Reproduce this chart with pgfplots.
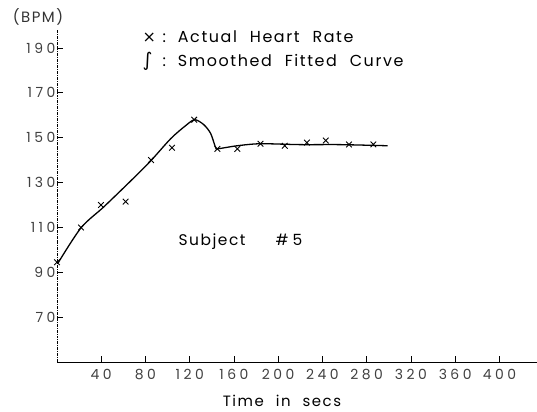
\documentclass[border=0pt]{standalone}
\usepackage{fontspec}
\setmainfont{Poppins}[LetterSpace=10, WordSpace=2.2]
\newfontfamily\sym{DejaVu Sans}
\usepackage{pgfplots}
\pgfplotsset{compat=1.18}
\newcommand\dk{\kern3.5bp}
\pgfplotstableread{
x y
0 94.5
21.7 110
39.7 120
62 121.5
85 140
104 145.5
124 158
145 145
163 145
184 147.3
206 146.4
226 147.8
243 148.7
264 147
286 147
}\actual
\pgfplotstableread{
x y
0.9 94.1
21.7 109.8
42.4 119.2
66.8 130.8
84.8 139.7
102.9 149.6
116.4 155.4
124.5 158.0
132.7 155.8
139 151.8
143.5 145.5
146 145.1
163 146.4
184 147.3
220 146.9
256 146.9
299 146.4
}\fitted
\begin{document}
\begin{tikzpicture}[x=1bp,y=1bp]
\begin{axis}[
  at={(57bp,49bp)}, anchor=south west,
  scale only axis, width=480bp, height=332bp,
  xmin=0, xmax=434, ymin=50, ymax=198,
  axis lines=left, axis line style={-, line width=0.9pt},
  y axis line style={densely dashdotted},
  xtick={40,80,...,400}, ytick={70,90,...,190},
  xticklabels={4\dk0,8\dk0,1\dk2\dk0,1\dk6\dk0,2\dk0\dk0,2\dk4\dk0,2\dk8\dk0,3\dk2\dk0,3\dk6\dk0,4\dk0\dk0},
  yticklabels={7\dk0,9\dk0,1\dk1\dk0,1\dk3\dk0,1\dk5\dk0,1\dk7\dk0,1\dk9\dk0},
  tick align=inside, major tick length=6bp,
  tick style={black, line width=0.7pt},
  tick label style={font=\fontsize{14}{14}\selectfont, text=black!75},
  xticklabel style={yshift=-4bp},
  yticklabel style={xshift=2bp},
  clip=false,
]
\addplot[black, line width=1.3pt, smooth, tension=0.5] table[x=x,y=y] {\fitted};
\addplot[only marks, mark=x, mark size=4bp, mark options={line width=0.9pt}, black] table[x=x,y=y] {\actual};
\end{axis}
\node[font=\fontsize{15}{15}\selectfont, text=black!80] at (38,394) {(BPM)};
\node[anchor=west, font=\fontsize{16}{16}\selectfont] at (139,374) {\makebox[10bp][l]{\sym×}\hspace{10bp}:\hspace{12bp}Actual Heart Rate};
\node[anchor=west, font=\fontsize{16}{16}\selectfont] at (139,350) {\makebox[10bp][l]{\sym\fontsize{19}{19}\selectfont∫}\hspace{10bp}:\hspace{12bp}Smoothed Fitted Curve};
\node[anchor=west, font=\fontsize{15.5}{15.5}\selectfont] at (175,169) {Subject\hspace{30bp}\#\hspace{4bp}5};
\node[font=\fontsize{15}{15}\selectfont] at (282,10) {Time in secs};
\pgfresetboundingbox
\path[use as bounding box] (0,0) rectangle (537,411);
\end{tikzpicture}
\end{document}
